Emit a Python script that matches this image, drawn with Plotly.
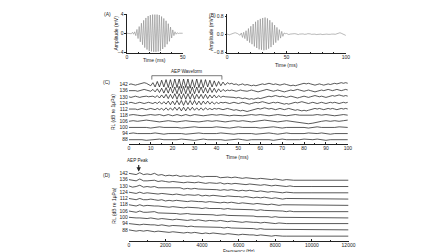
import plotly.graph_objects as go

# ---------------- data ----------------
# Panel A: stimulus tone burst (mV), sampled every 1 ms
time_a = list(range(0, 51))
amp_a = [0, 0, 0, 0.05, -0.1, 0.2, -0.2, 0.3, -0.5, 0.8,
         -1.1, 1.4, -1.8, 2.1, -2.4, 2.7, -3.0, 3.2, -3.4, 3.6,
         -3.7, 3.8, -3.8, 3.9, -3.9, 3.9, -3.9, 3.9, -3.8, 3.8,
         -3.7, 3.5, -3.3, 3.1, -2.9, 2.6, -2.3, 2.0, -1.7, 1.3,
         -1.0, 0.7, -0.5, 0.3, -0.2, 0.1, -0.05, 0, 0, 0, 0]

# Panel B: recorded AEP waveform (mV), every 1 ms
time_b = list(range(0, 101))
amp_b = [0, -0.02, -0.03, -0.01, 0.02, 0.04, 0.05, 0.06, 0.05, 0.02,
         -0.02, -0.05, 0.05, -0.15, 0.08, -0.2, 0.15, -0.3, 0.25, -0.38,
         0.35, -0.45, 0.45, -0.55, 0.55, -0.62, 0.62, -0.68, 0.68, -0.7,
         0.72, -0.72, 0.74, -0.7, 0.7, -0.65, 0.62, -0.58, 0.52, -0.48,
         0.4, -0.38, 0.3, -0.28, 0.2, -0.18, 0.12, -0.1, 0.05, 0.02,
         0.03, 0.0, -0.02, 0.0, 0.01, -0.01, 0.0, 0.02, 0.01, -0.01,
         -0.02, 0.0, 0.01, 0.02, 0.01, -0.01, -0.02, 0.0, 0.02, 0.03,
         0.01, -0.01, 0.0, 0.01, 0.0, -0.02, -0.01, 0.01, 0.02, 0.0,
         -0.02, -0.01, 0.0, 0.01, 0.0, -0.01, -0.02, -0.01, 0.0, 0.01,
         0.0, -0.01, 0.01, 0.03, 0.05, 0.06, 0.04, 0.01, -0.02, -0.04,
         -0.06]

# Panel C: AEP waveforms per received level (units of 0.1 trace spacing)
rl_labels = ["142", "136", "130", "124", "112", "118", "106", "100", "94", "88"]
time_c1 = list(range(0, 101))      # 1 ms step
time_c2 = list(range(0, 101, 2))   # 2 ms step
c142 = [0, 1, 0, -1, 0, 1, 2, 3, 2, 0,
        -2, 3, -4, 5, -4, 7, -4, 8, -5, 8,
        -5, 9, -5, 9, -6, 9, -5, 9, -6, 8,
        -5, 9, -5, 8, -5, 8, -4, 7, -4, 6,
        -3, 5, -2, 4, -1, 3, 1, 2, 0, 1,
        -1, 0, 1, -1, 0, -1, -2, -1, -2, -1,
        0, 1, 0, 1, 2, 1, 0, 1, 0, -1,
        0, 1, 0, -1, -2, -1, -2, -1, 0, 1,
        2, 1, 2, 1, 0, -1, 0, 1, 0, -1,
        0, 1, 0, 1, 2, 1, 2, 3, 2, 3,
        2]
c136 = [0, 0, 1, 0, -1, 0, 1, 2, 1, 0,
        -1, 2, -2, 3, -3, 4, -4, 5, -4, 6,
        -4, 6, -5, 7, -5, 7, -5, 7, -5, 6,
        -5, 6, -4, 6, -4, 5, -4, 5, -3, 4,
        -3, 3, -2, 2, -1, 1, 0, 1, 0, -1,
        0, 1, 0, -1, -1, 0, 1, 0, -1, -2,
        -1, 0, 1, 2, 1, 0, -1, 0, 1, 0,
        -1, -2, -1, 0, 1, 0, 1, 2, 1, 0,
        -1, 0, 1, 0, -1, -2, -1, 0, 1, 0,
        1, 2, 1, 0, 1, 2, 1, 0, 1, 2,
        1]
c130 = [0, -1, 0, 1, 0, -1, 0, 1, 1, 0,
        0, 1, -1, 2, -2, 3, -2, 4, -3, 4,
        -3, 5, -4, 5, -4, 5, -4, 5, -4, 5,
        -4, 4, -3, 4, -3, 4, -3, 3, -2, 3,
        -2, 2, -1, 1, 0, 0, -1, 0, -1, -2,
        -1, -2, -3, -2, -3, -4, -3, -4, -3, -2,
        -3, -2, -1, 0, 1, 0, 1, 2, 1, 0,
        1, 0, -1, 0, 1, 0, -1, -2, -1, 0,
        1, 0, -1, 0, 1, 2, 1, 0, 1, 0,
        -1, 0, 1, 2, 1, 2, 3, 2, 1, 2,
        1]
c124 = [0, 1, 0, -1, 0, 1, 0, -1, 0, 1,
        0, -1, 1, -1, 2, -2, 2, -2, 3, -3,
        3, -3, 4, -3, 4, -4, 4, -3, 4, -3,
        4, -3, 3, -3, 3, -2, 3, -2, 2, -2,
        1, -1, 1, 0, 1, 0, -1, 0, 1, 0,
        -1, 0, 1, 0, -1, -2, -1, 0, 1, 0,
        1, 2, 1, 0, -1, 0, 1, 0, 1, 0,
        -1, -2, -1, -2, -1, 0, 1, 0, 1, 2,
        1, 0, -1, 0, 1, 0, -1, 0, 1, 0,
        -1, 0, 1, 0, 1, 0, -1, 0, 1, 0,
        1]
c112 = [0, 0, 1, 0, -1, 0, 1, 0, -1, 0,
        1, 0, -1, 1, -1, 1, -2, 2, -2, 2,
        -2, 3, -2, 3, -3, 3, -3, 3, -2, 3,
        -2, 2, -2, 2, -2, 2, -1, 1, -1, 1,
        0, 1, 0, -1, 0, 1, 0, -1, -2, -1,
        -2, -3, -2, -3, -4, -3, -2, -1, 0, 1,
        0, 1, 2, 1, 0, 1, 0, -1, 0, 1,
        0, -1, 0, 1, 0, -1, -2, -1, -2, -3,
        -2, -3, -2, -1, 0, 1, 0, 1, 0, -1,
        0, 1, 0, 1, 0, -1, 0, 1, 0, 1,
        0]
c118 = [0, 1, 0, -1, 0, 1, 0, 1, -1, 1,
        -1, 1, -1, 1, -1, 1, 0, -1, 0, 1,
        0, 1, 0, -1, 0, -1, -1, 0, 1, 0,
        1, 0, -1, 0, 1, 0, -1, 0, 1, 0,
        0, -1, 0, 1, 0, 1, 0, -1, 0, 1,
        0]
c106 = [0, 1, 0, 1, 2, 1, 0, -1, 0, 1,
        0, -1, 0, 1, 0, -1, -1, 0, 1, 0,
        1, 0, -1, 0, 1, 0, 1, 0, -1, 0,
        1, 2, 1, 0, -1, 0, 1, 0, -1, -2,
        -3, -4, -3, -1, 0, 1, 0, 1, 0, 1,
        2]
c100 = [0, 0, 1, 0, 0, -1, 0, 1, 0, 0,
        1, 0, -1, 0, 0, 1, 0, 0, -1, 0,
        1, 0, 0, -1, 0, 1, 0, 0, 1, 0,
        -1, 0, 0, 1, 0, -1, 0, 0, 1, 0,
        0, -1, 0, 1, 0, 0, -1, 0, 1, 0,
        0]
c94 = [0, 1, 0, 0, -1, 0, 1, 0, -1, 0,
       0, 1, 0, -1, 0, 0, 1, 0, 0, -1,
       0, 1, 0, 0, -1, 0, 0, 1, 0, -1,
       0, 0, 1, 0, -1, 0, 1, 0, 0, -1,
       0, 1, 0, 0, 1, 0, -1, 0, 0, 1,
       0]
c88 = [0, 0, 1, 0, -1, 0, 0, 1, 0, 0,
       -1, 0, 1, 0, 0, -1, 0, 1, 0, 0,
       1, 0, -1, 0, 0, 1, 0, -1, 0, 0,
       1, 0, 0, -1, 0, 1, 0, 0, -1, 0,
       1, 0, 0, 1, 0, -1, 0, 0, 1, 0,
       0]
waves_c = [c142, c136, c130, c124, c112, c118, c106, c100, c94, c88]
times_c = [time_c1] * 5 + [time_c2] * 5
aep_window = [10.5, 42.5]   # ms

# Panel D: spectra per received level (units of 0.1 trace spacing)
freq_d = list(range(0, 9001, 200)) + [10000, 11000, 12000]
d142 = [0, -1, -2, 1, -2, -1, -2, 0, -3, -2,
        -4, -3, -4, -3, -5, -4, -5, -4, -5, -4,
        -6, -5, -5, -6, -5, -7, -6, -6, -7, -6,
        -7, -8, -7, -8, -8, -9, -8, -9, -9, -10,
        -9, -10, -11, -10, -11, -11, -11, -11, -11]
d136 = [0, -1, -2, 1, -2, -2, -1, -1, -3, -2,
        -3, -4, -3, -4, -4, -5, -4, -5, -5, -4,
        -5, -6, -5, -6, -6, -5, -7, -6, -7, -6,
        -7, -7, -8, -7, -8, -8, -9, -8, -9, -10,
        -9, -10, -10, -11, -10, -11, -11, -11, -11]
d130 = [0, -2, -1, 1, -2, -1, -2, -1, -3, -3,
        -4, -3, -4, -4, -3, -5, -4, -5, -4, -5,
        -5, -6, -6, -5, -6, -7, -6, -7, -6, -7,
        -8, -7, -8, -7, -8, -9, -8, -9, -10, -9,
        -10, -10, -11, -10, -11, -11, -11, -11, -11]
d124 = [0, -1, -2, 0, -2, -1, -2, -2, -3, -2,
        -3, -4, -4, -3, -4, -5, -4, -5, -5, -4,
        -6, -5, -6, -5, -6, -6, -7, -6, -7, -7,
        -7, -8, -7, -8, -9, -8, -9, -8, -9, -10,
        -9, -10, -11, -10, -10, -11, -11, -11, -11]
d112 = [0, -1, -2, 0, -2, -2, -1, -2, -3, -2,
        -4, -3, -4, -3, -4, -4, -5, -4, -5, -5,
        -5, -6, -5, -6, -6, -7, -6, -7, -6, -7,
        -8, -7, -8, -8, -9, -8, -9, -9, -10, -9,
        -10, -11, -10, -10, -11, -11, -11, -11, -11]
d118 = [0, -1, -2, 0, -2, -1, -2, -2, -2, -3,
        -3, -4, -3, -4, -4, -5, -4, -4, -5, -5,
        -6, -5, -6, -6, -5, -6, -7, -6, -7, -7,
        -8, -7, -8, -7, -8, -9, -8, -9, -9, -10,
        -10, -9, -10, -11, -10, -11, -11, -11, -11]
d106 = [0, -1, -2, 0, -2, -2, -2, -1, -3, -3,
        -3, -4, -3, -4, -5, -4, -4, -5, -5, -6,
        -5, -5, -6, -6, -7, -6, -6, -7, -7, -8,
        -7, -8, -7, -8, -8, -9, -9, -8, -9, -10,
        -9, -10, -10, -11, -10, -11, -11, -11, -11]
d100 = [0, -1, -1, -1, -2, -2, -1, -2, -3, -2,
        -3, -3, -4, -3, -4, -4, -5, -4, -5, -4,
        -5, -6, -5, -6, -6, -5, -6, -7, -6, -7,
        -7, -8, -7, -8, -8, -8, -9, -8, -9, -9,
        -10, -9, -10, -10, -10, -10, -10, -10, -10]
d94 = [0, -1, -1, -2, -1, -2, -2, -2, -3, -2,
       -3, -4, -3, -3, -4, -4, -5, -4, -5, -5,
       -5, -6, -5, -6, -5, -6, -7, -6, -7, -7,
       -7, -8, -7, -8, -8, -9, -8, -9, -9, -9,
       -10, -9, -10, -10, -10, -10, -10, -10, -10]
d88 = [0, -1, -2, -1, -2, -1, -2, -3, -2, -3,
       -3, -4, -3, -4, -4, -5, -4, -5, -4, -5,
       -6, -5, -6, -5, -6, -6, -7, -6, -7, -7,
       -8, -7, -8, -8, -8, -9, -8, -9, -9, -10,
       -9, -10, -10, -10, -10, -10, -10, -10, -10]
spectra_d = [d142, d136, d130, d124, d112, d118, d106, d100, d94, d88]
aep_peak_hz = 540

# ---------------- layout helpers ----------------
W, H = 448, 252
def fx(px):
    return px / W
def fy(py):
    return 1 - py / H

FONT = "Liberation Sans, Arial, sans-serif"
INK = "#222222"
LW = 0.8

fig = go.Figure()

# Panel A
fig.add_trace(go.Scatter(x=time_a, y=amp_a, mode="lines",
                         line=dict(color="#8a8a8a", width=0.6),
                         xaxis="x", yaxis="y", showlegend=False))
# Panel B
fig.add_trace(go.Scatter(x=time_b, y=amp_b, mode="lines",
                         line=dict(color="#8a8a8a", width=0.6),
                         xaxis="x2", yaxis="y2", showlegend=False))
# Panel C
n = len(rl_labels)
for i, (t, w) in enumerate(zip(times_c, waves_c)):
    pos = n - 1 - i
    fig.add_trace(go.Scatter(x=t, y=[pos + v * 0.1 for v in w], mode="lines",
                             line=dict(color="#111111", width=0.7),
                             xaxis="x3", yaxis="y3", showlegend=False))
# Panel D
for i, s in enumerate(spectra_d):
    pos = n - 1 - i
    fig.add_trace(go.Scatter(x=freq_d, y=[pos + v * 0.1 for v in s], mode="lines",
                             line=dict(color="#111111", width=0.7),
                             xaxis="x4", yaxis="y4", showlegend=False))

def xax(dom, rng, dtick, minor_dtick, anchor):
    return dict(domain=[fx(dom[0]), fx(dom[1])], range=rng, anchor=anchor,
                showline=True, linecolor=INK, linewidth=LW, mirror=False,
                showgrid=False, zeroline=False, ticks="inside", ticklen=2,
                tickwidth=0.6, tickcolor=INK, dtick=dtick, tick0=0,
                tickformat="d", ticklabelstandoff=-1,
                minor=dict(dtick=minor_dtick, ticks="inside", ticklen=1.2,
                           tickwidth=0.5, tickcolor=INK, showgrid=False),
                tickfont=dict(size=5, color=INK, family=FONT))

layout = dict(
    width=W, height=H, margin=dict(l=0, r=0, t=0, b=0),
    paper_bgcolor="white", plot_bgcolor="white",
    font=dict(family=FONT, size=5, color=INK),
    xaxis=xax((120, 177), [0, 50], 50, 10, "y"),
    yaxis=dict(domain=[fy(42.7), fy(2.7)], range=[-4.1, 4.1], anchor="x",
               showline=True, linecolor=INK, linewidth=LW, showgrid=False,
               zeroline=False, ticks="outside", ticklen=1.5, tickwidth=0.6,
               tickcolor=INK, tickvals=[-4, 0, 4],
               tickfont=dict(size=5, color=INK, family=FONT)),
    xaxis2=xax((222, 343), [0, 100], 50, 10, "y2"),
    yaxis2=dict(domain=[fy(43), fy(3)], range=[-0.85, 0.9], anchor="x2",
                showline=True, linecolor=INK, linewidth=LW, showgrid=False,
                zeroline=False, ticks="outside", ticklen=1.5, tickwidth=0.6,
                tickcolor=INK, tickvals=[-0.8, 0, 0.8], tickformat=".1f",
                tickfont=dict(size=5, color=INK, family=FONT)),
    xaxis3=xax((122, 345), [0, 100], 10, 5, "y3"),
    yaxis3=dict(domain=[fy(136), fy(66)], range=[-0.75, 10.44], anchor="x3",
                showline=False, showgrid=False, zeroline=False, ticks="",
                tickvals=list(range(n - 1, -1, -1)), ticktext=rl_labels,
                tickfont=dict(size=5, color=INK, family=FONT)),
    xaxis4=xax((122, 345.7), [0, 12000], 2000, 1000, "y4"),
    yaxis4=dict(domain=[fy(235), fy(158.3)], range=[-1.825, 10.14], anchor="x4",
                showline=False, showgrid=False, zeroline=False, ticks="",
                tickvals=list(range(n - 1, -1, -1)), ticktext=rl_labels,
                tickfont=dict(size=5, color=INK, family=FONT)),
)
fig.update_layout(**layout)

def note(text, px, py, size=5, angle=0, xanchor="center", yanchor="middle"):
    fig.add_annotation(text=text, x=fx(px), y=fy(py), xref="paper", yref="paper",
                       showarrow=False, textangle=angle, xanchor=xanchor,
                       yanchor=yanchor, borderpad=0,
                       font=dict(size=size, color=INK, family=FONT))

note("(A)", 100, 3)
note("(B)", 207, 4)
note("(C)", 99, 72)
note("(D)", 99, 167)
note("Amplitude (mV)", 108, 23, angle=-90)
note("Amplitude (mV)", 205, 23, angle=-90)
note("Time (ms)", 148, 50.5)
note("Time (ms)", 283, 55)
note("Time (ms)", 233, 148.5)
note("Frequency (Hz)", 234, 245.3, size=4.6)
note("RL (dB re 1\u03bcPa)", 106, 103, angle=-90)
note("RL (dB re 1\u03bcPa)", 106, 198.5, angle=-90)
note("AEP Waveform", 181, 61.5, size=4.6)
note("AEP Peak", 131, 152.5, size=4.6)

# AEP waveform bracket
y_lo, y_hi = fy(70), fy(66)
fig.add_shape(type="path", xref="x3", yref="paper",
              path=f"M {aep_window[0]},{y_lo} L {aep_window[0]},{y_hi} "
                   f"L {aep_window[1]},{y_hi} L {aep_window[1]},{y_lo}",
              line=dict(color=INK, width=0.6))

# AEP peak arrow
fig.add_annotation(x=aep_peak_hz, y=fy(163.8), xref="x4", yref="paper",
                   ax=0, ay=-8, axref="pixel", ayref="pixel", text="",
                   showarrow=True, arrowhead=2, arrowsize=0.8, arrowwidth=1.1,
                   arrowcolor=INK)

fig.write_html("out.html")
